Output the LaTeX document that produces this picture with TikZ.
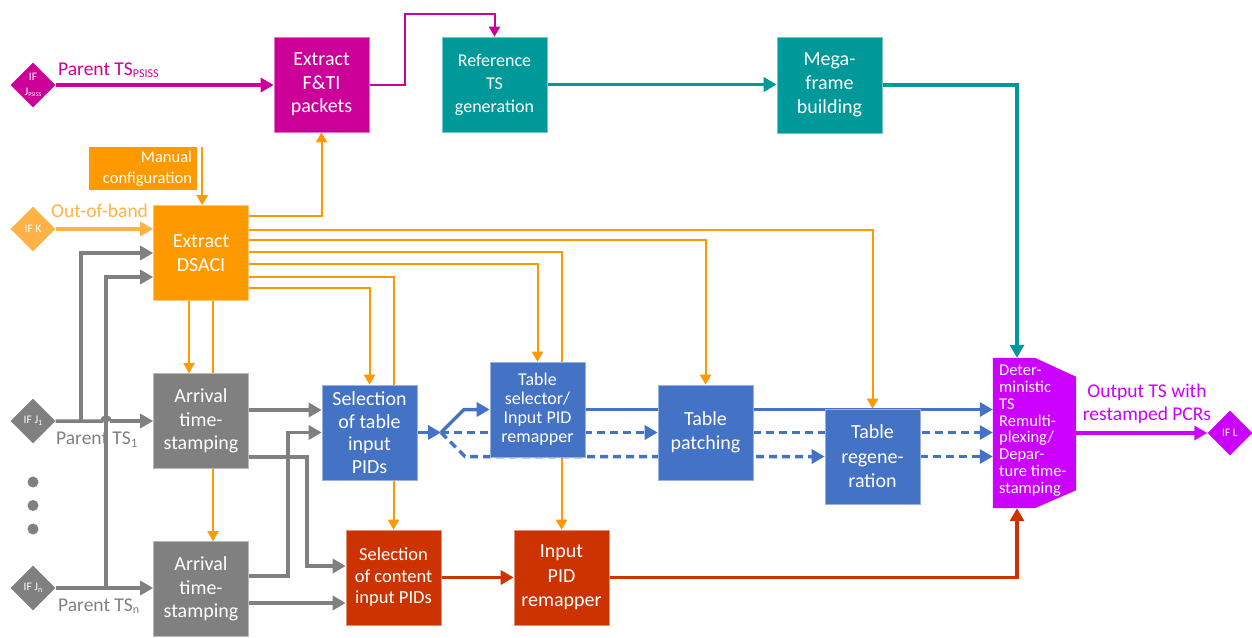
\documentclass[tikz,border=0pt]{standalone}
\usepackage{fontspec}
\setmainfont{Carlito}
\usetikzlibrary{arrows.meta,shapes.geometric,calc}
\definecolor{cmag}{HTML}{CC0099}
\definecolor{cteal}{HTML}{009999}
\definecolor{corg}{HTML}{FF9900}
\definecolor{clorg}{HTML}{FFB347}
\definecolor{cgray}{HTML}{808080}
\definecolor{cblue}{HTML}{4472C4}
\definecolor{cred}{HTML}{CC3300}
\definecolor{cpur}{HTML}{CC00FF}
\pgfdeclarelayer{bg}
\pgfsetlayers{bg,main}
\begin{document}
\begin{tikzpicture}[x=1pt,y=-1pt,
  box/.style={rectangle, fill=#1, draw=#1!55!white, line width=0.6pt, text=white, align=center,
    minimum width=95pt, minimum height=95pt, inner sep=1pt, font=\fontsize{20}{23.5}\selectfont},
  ifd/.style={diamond, aspect=1, fill=#1, minimum size=45pt, inner sep=0pt, text=white,
    align=center, font=\fontsize{11.5}{15}\selectfont},
  tharr/.style={line width=3.5pt, draw=#1, -{Triangle[length=13pt,width=14pt]}},
  thline/.style={line width=3.5pt, draw=#1},
  tnarr/.style={line width=2pt, draw=#1, -{Triangle[length=10pt,width=11pt]}},
  orarr/.style={tnarr=corg},
  dasharr/.style={line width=3.5pt, draw=cblue, dash pattern=on 8pt off 5pt, -{Triangle[length=13pt,width=14pt]}},
  lbl/.style={inner sep=0pt, font=\fontsize{19.5}{23.3}\selectfont}
]
\useasboundingbox (0,0) rectangle (1252,637);

% ---------- boxes ----------
\node[box=cmag] (ftip) at (321.5,84.5) {Extract\\F\&TI\\packets};
\node[box=cteal, minimum width=105pt, font=\fontsize{18}{23}\selectfont] (refts) at (494.5,84.5) {Reference\\TS\\generation};
\node[box=cteal, minimum width=105pt, minimum height=96pt, font=\fontsize{20}{24}\selectfont] (mega) at (829.5,85) {Mega-\\frame\\building};
\node[rectangle, fill=corg, minimum width=108pt, minimum height=43pt, text width=98pt, inner xsep=5pt, inner ysep=1pt,
  text=white, align=right, font=\fontsize{16.5}{21}\selectfont] (manual) at (143,168.5) {Manual\\configuration};
\node[box=corg, font=\fontsize{20}{24}\selectfont] (dsaci) at (201,253) {Extract\\DSACI};
\node[box=cgray] (arr1) at (201,421) {Arrival\\time-\\stamping};
\node[box=cgray] (arrn) at (201,589) {Arrival\\time-\\stamping};
\node[box=cblue, font=\fontsize{20}{22.5}\selectfont] (seltab) at (369.5,432.5) {Selection\\of table\\input\\PIDs};
\node[box=cred, font=\fontsize{18.5}{21.5}\selectfont] (selcon) at (393.5,577.5) {Selection\\of content\\input PIDs};
\node[box=cblue, font=\fontsize{18}{19}\selectfont] (tabsel) at (537.5,409.5) {Table\\selector/\\Input PID\\remapper};
\node[box=cred, font=\fontsize{20}{24.5}\selectfont] (pidrem) at (561.5,577.5) {Input\\PID\\remapper};
\node[box=cblue] (tabpat) at (705.5,432.5) {Table\\patching};
\node[box=cblue, font=\fontsize{20}{24.5}\selectfont] (tabreg) at (872.5,456.5) {Table\\regene-\\ration};

% deterministic remultiplexer (polygon)
\node[rectangle, minimum width=83pt, minimum height=150pt, inner sep=0pt] (det) at (1034.5,433) {};
\fill[cpur] (det.north west) -- ($(det.north west)+(42,0)$) -- ($(det.north east)+(0,19)$)
  -- ($(det.south east)+(0,-18)$) -- ($(det.south west)+(42,0)$) -- (det.south west) -- cycle;
\node[anchor=north west, inner sep=0pt, text=white, align=left, font=\fontsize{16.5}{16.8}\selectfont] (dettxt)
  at (999,365) {Deter-\\ministic\\TS\\Remulti-\\plexing/\\Depar-\\ture time-\\stamping};

% ---------- interfaces ----------
\node[ifd=cmag] (ifjp) at (33,85) {IF\\J\raisebox{-1.5pt}{\fontsize{6}{6}\selectfont PSISS}};
\node[ifd=clorg] (ifk) at (33,229) {IF K};
\node[ifd=cgray] (ifj1) at (33,421) {IF J\raisebox{-2pt}{\fontsize{8}{8}\selectfont 1}};
\node[ifd=cgray] (ifjn) at (33,588) {IF J\raisebox{-2pt}{\fontsize{8}{8}\selectfont n}};
\node[ifd=cpur] (ifl) at (1230,433) {IF L};

% ---------- labels ----------
\node[lbl, text=cmag, anchor=west] (lpsiss) at (58,70) {Parent TS\raisebox{-2pt}{\fontsize{12}{12}\selectfont PSISS}};
\node[lbl, text=clorg, anchor=west] (loob) at (51,211) {Out-of-band};
\node[lbl, text=cgray, anchor=west] (lts1) at (56,440) {Parent TS\raisebox{-3pt}{\fontsize{13}{13}\selectfont 1}};
\node[lbl, text=cgray, anchor=west] (ltsn) at (58,606) {Parent TS\raisebox{-2pt}{\fontsize{12}{12}\selectfont n}};
\node[lbl, text=cpur, align=center] (lout) at (1147,403.5) {Output TS with\\restamped PCRs};

\fill[cgray] (33,482) circle[radius=5.5];
\fill[cgray] (33,505.5) circle[radius=5.5];
\fill[cgray] (33,529) circle[radius=5.5];

% ---------- connectors ----------
\begin{pgfonlayer}{bg}
% magenta
\draw[tharr=cmag] (ifjp.east) -- (ifjp.east -| ftip.west);
\draw[tnarr=cmag] (ftip.east) -| (405,14) -| (refts.north);
% teal
\draw[tharr=cteal] (refts.east) -- (refts.east -| mega.west);
\draw[tharr=cteal] (mega.east) -| ([xshift=-17.5pt]det.north);
% red
\draw[tharr=cred] (selcon.east) -- (pidrem.west);
\draw[tharr=cred] (pidrem.east) -| ([xshift=-17.5pt]det.south);
% purple output
\draw[tharr=cpur] (det.east) -- (ifl.west);
% light orange
\draw[line width=3.5pt, draw=clorg, -{Triangle[length=13pt,width=14pt]}] (ifk.east) -- (ifk.east -| dsaci.west);
% gray
\coordinate (b1) at (81,421);
\coordinate (b2) at (106,588);
\draw[thline=cgray] (ifj1.east) -- (102,421) arc[start angle=180, end angle=360, radius=4];
\draw[tharr=cgray] (110,421) -- (arr1.west);
\draw[tharr=cgray] (b1) |- (dsaci.west);
\draw[tharr=cgray] (b2) |- ([yshift=-24pt]dsaci.west);
\draw[tharr=cgray] (ifjn.east) -- (ifjn.east -| arrn.west);
\draw[tharr=cgray] ([yshift=11pt]arr1.east) -- ([yshift=11pt]arr1.east -| seltab.west);
\draw[tharr=cgray] ([yshift=-36pt]arr1.east) -- (307,457) |- ([yshift=11.5pt]selcon.west);
\draw[tharr=cgray] ([yshift=13pt]arrn.east) -- (288,576) |- (seltab.west);
\draw[tharr=cgray] ([yshift=-14pt]arrn.east) -- ([yshift=-14pt]arrn.east -| selcon.west);
% orange
\draw[orarr] ([xshift=5pt]manual.north east) -- ([xshift=5pt]manual.north east |- dsaci.north);
\draw[orarr] ([yshift=-11pt]dsaci.north east) -| (ftip.south);
\draw[orarr] ([yshift=-25pt]dsaci.north east) -| (tabreg.north);
\draw[orarr] ([yshift=-35pt]dsaci.north east) -| (tabpat.north);
\draw[orarr] ([yshift=-47pt]dsaci.north east) -| (pidrem.north);
\draw[orarr] ([yshift=-59pt]dsaci.north east) -| (tabsel.north);
\draw[orarr] ([yshift=-72pt]dsaci.north east) -| (selcon.north);
\draw[orarr] ([yshift=-83pt]dsaci.north east) -| (seltab.north);
\draw[orarr] ([xshift=-12pt]dsaci.south) -- ([xshift=-12pt]arr1.north);
\draw[orarr] ([xshift=12pt]dsaci.south) -- ([xshift=12pt]arrn.north);
% blue
\coordinate (split) at (441,432.5);
\draw[tharr=cblue] (seltab.east) -- (split);
\draw[tharr=cblue] (split) -- (464,409.5) -- (tabsel.west);
\draw[dasharr] (split) -- (tabpat.west);
\draw[dasharr] (split) -- (465,456.5) -- (tabreg.west);
\draw[thline=cblue] (tabsel.east) -- (tabsel.east -| tabpat.west);
\draw[tharr=cblue] ([yshift=23pt]tabpat.east) -- ([yshift=23pt]tabpat.east -| det.west);
\draw[dasharr] (tabpat.east) -- (tabpat.east -| det.west);
\draw[dasharr] (tabreg.east) -- (tabreg.east -| det.west);
\end{pgfonlayer}
\end{tikzpicture}
\end{document}
